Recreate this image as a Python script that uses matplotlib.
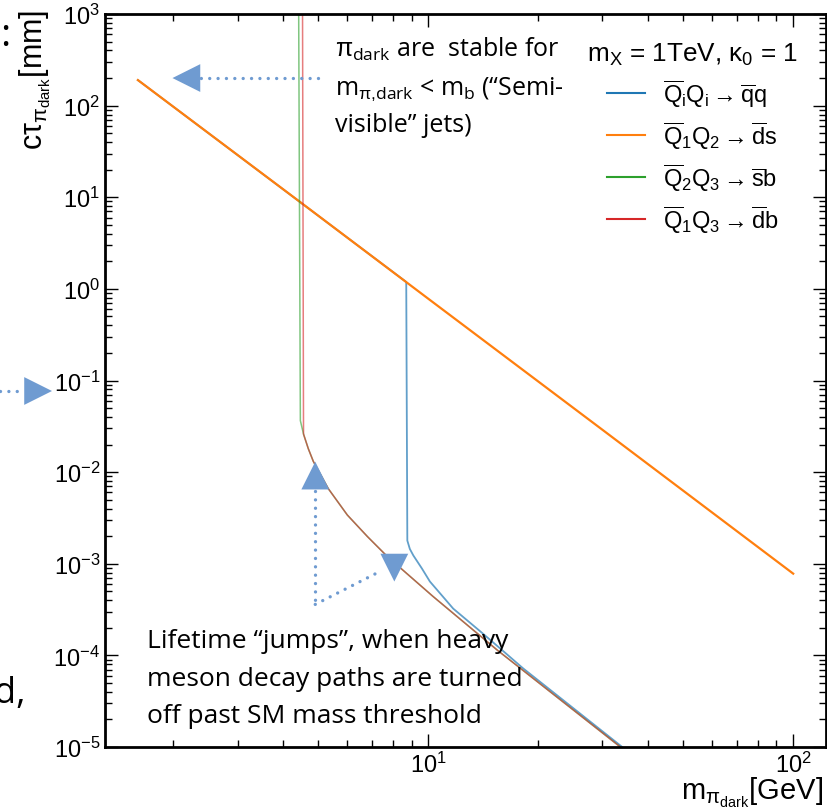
import matplotlib.pyplot as plt
from matplotlib.lines import Line2D
from matplotlib.ticker import LogLocator, NullFormatter
import numpy as np

plt.rcParams['font.family'] = ['Liberation Sans', 'DejaVu Sans']
plt.rcParams['mathtext.fontset'] = 'custom'
plt.rcParams['mathtext.rm'] = 'Liberation Sans'
plt.rcParams['mathtext.it'] = 'Liberation Sans'
plt.rcParams['mathtext.bf'] = 'Liberation Sans:bold'

# dark pion mass [GeV] vs proper decay length c*tau [mm], one curve per flavour channel
m_qq = [1.6, 8.7, 8.76, 8.9, 9.1, 9.6, 10.1, 11.7, 13.9, 16.1, 18.2, 34.0, 40.0]
ct_qq = [190, 1.19, 1.79e-3, 1.45e-3, 1.23e-3, 8.9e-4, 6.4e-4, 3.24e-4, 1.82e-4, 1.1e-4, 7.2e-5, 1.0e-5, 6.0e-6]

m_ds = [1.6, 4.5, 10, 30, 100]
ct_ds = [190, 8.6, 0.78, 0.029, 7.8e-4]

m_sb = [4.41, 4.46, 4.55, 4.69, 4.84, 5.32, 6.0, 6.81, 7.72, 10.3, 15.5, 33.6, 40.0]
ct_sb = [2e3, 0.0365, 0.026, 0.018, 0.0131, 0.0066, 0.0034, 1.98e-3, 1.2e-3, 4.4e-4, 1.13e-4, 1.0e-5, 5.8e-6]

m_db = [4.52, 4.55, 4.69, 4.84, 5.32, 6.0, 6.81, 7.72, 10.3, 15.5, 33.6, 40.0]
ct_db = [2e3, 0.026, 0.018, 0.0131, 0.0066, 0.0034, 1.98e-3, 1.2e-3, 4.4e-4, 1.13e-4, 1.0e-5, 5.8e-6]

labels = [r"$\overline{Q}_{i}Q_{i} \rightarrow \overline{q}q$",
          r"$\overline{Q}_{1}Q_{2} \rightarrow \overline{d}s$",
          r"$\overline{Q}_{2}Q_{3} \rightarrow \overline{s}b$",
          r"$\overline{Q}_{1}Q_{3} \rightarrow \overline{d}b$"]

W, H = 827, 812
fig = plt.figure(figsize=(W / 100, H / 100), dpi=100)
ax = fig.add_axes([105 / W, 1 - 748 / H, 721 / W, 733 / H])

ax.plot(m_qq, ct_qq, color="#1f77b4", lw=1.3, alpha=0.7, label=labels[0])
ax.plot(m_ds, ct_ds, color="#ff7f0e", lw=1.6, label=labels[1])
ax.plot(m_sb, ct_sb, color="#2ca02c", lw=1.1, alpha=0.6, label=labels[2])
ax.plot(m_db, ct_db, color="#d62728", lw=1.1, alpha=0.6, label=labels[3])

ax.set_xscale('log')
ax.set_yscale('log')
ax.set_xlim(1.3, 123)
ax.set_ylim(1e-5, 1e3)

for axis in (ax.xaxis, ax.yaxis):
    axis.set_major_locator(LogLocator(base=10, numticks=20))
    axis.set_minor_locator(LogLocator(base=10, subs=np.arange(2, 10), numticks=100))
    axis.set_minor_formatter(NullFormatter())
ax.tick_params(which='both', direction='in', top=True, right=True, labelsize=17, width=1)
ax.tick_params(which='major', length=9.5, pad=3.5)
ax.tick_params(which='minor', length=5)
for sp in ax.spines.values():
    sp.set_linewidth(2)

ax.set_xlabel(r"m$_{\pi_{\mathregular{dark}}}$[GeV]", loc='right', fontsize=21)
ax.set_ylabel(r"c$\tau_{\pi_{\mathregular{dark}}}$[mm]", loc='top', fontsize=22)
ax.xaxis.set_label_coords(0.996, -0.038)
ax.yaxis.set_label_coords(-0.072, 1.007)

leg = ax.legend(loc='upper right', bbox_to_anchor=(0.991, 0.993), frameon=False, fontsize=17,
                title=r"m$_{\mathregular{X}}$ = 1TeV, κ$_{0}$ = 1", title_fontsize=18.8,
                handlelength=1.6, handletextpad=0.75, labelspacing=0.43)
for h in leg.legend_handles:
    h.set_alpha(1)
    h.set_linewidth(1.5)

# annotation arrows
acol = "#6f9bd1"
dots = dict(color=acol, lw=2.4, dashes=(0.01, 2.5), dash_capstyle='round', clip_on=False)


def head(tip, base, coords='data'):
    ax.annotate("", xy=tip, xytext=base, xycoords=coords, textcoords=coords,
                arrowprops=dict(arrowstyle="-|>,head_length=2.0,head_width=1.0",
                                color=acol, lw=0, shrinkA=0, shrinkB=0),
                annotation_clip=False)


ax.plot([4.97, 2.37], [200, 200], **dots)
head((1.99, 200), (2.37, 200))

ax.plot([4.9, 4.9], [0.0063, 3.6e-4], **dots)
head((4.9, 0.013), (4.9, 0.0063))
ax.plot([4.9, 7.44], [3.6e-4, 8.4e-4], **dots)
head((8.07, 6.4e-4), (8.07, 1.14e-3))

y_left = 1 - 392 / H
fig.add_artist(Line2D([0, 24 / W], [y_left, y_left], transform=fig.transFigure,
                      color=acol, lw=2.4, dashes=(0.01, 2.5), dash_capstyle='round'))
head((52 / W, y_left), (24 / W, y_left), coords='figure fraction')

# text boxes
sfont = ['Open Sans', 'DejaVu Sans']
top_lines = [r"$\pi_{\mathregular{dark}}$ are  stable for",
             r"m$_{\pi{,}\mathregular{dark}}$ < m$_{\mathregular{b}}$ (“Semi-",
             "visible” jets)"]
for line, yb in zip(top_lines, [57, 95, 132]):
    fig.text(335 / W, 1 - yb / H, line, family=sfont, fontsize=18, va='baseline')

bottom_lines = ["Lifetime “jumps”, when heavy",
                "meson decay paths are turned",
                "off past SM mass threshold"]
for line, yb in zip(bottom_lines, [648, 686, 723]):
    fig.text(147 / W, 1 - yb / H, line, family=sfont, fontsize=19, va='baseline')

fig.text(0, 1 - 46 / H, ":", family=sfont, fontsize=28, va='baseline')
fig.text(25 / W, 1 - 703 / H, "d,", family=sfont, fontsize=26, va='baseline', ha='right')

fig.savefig("out.png", dpi=100)
